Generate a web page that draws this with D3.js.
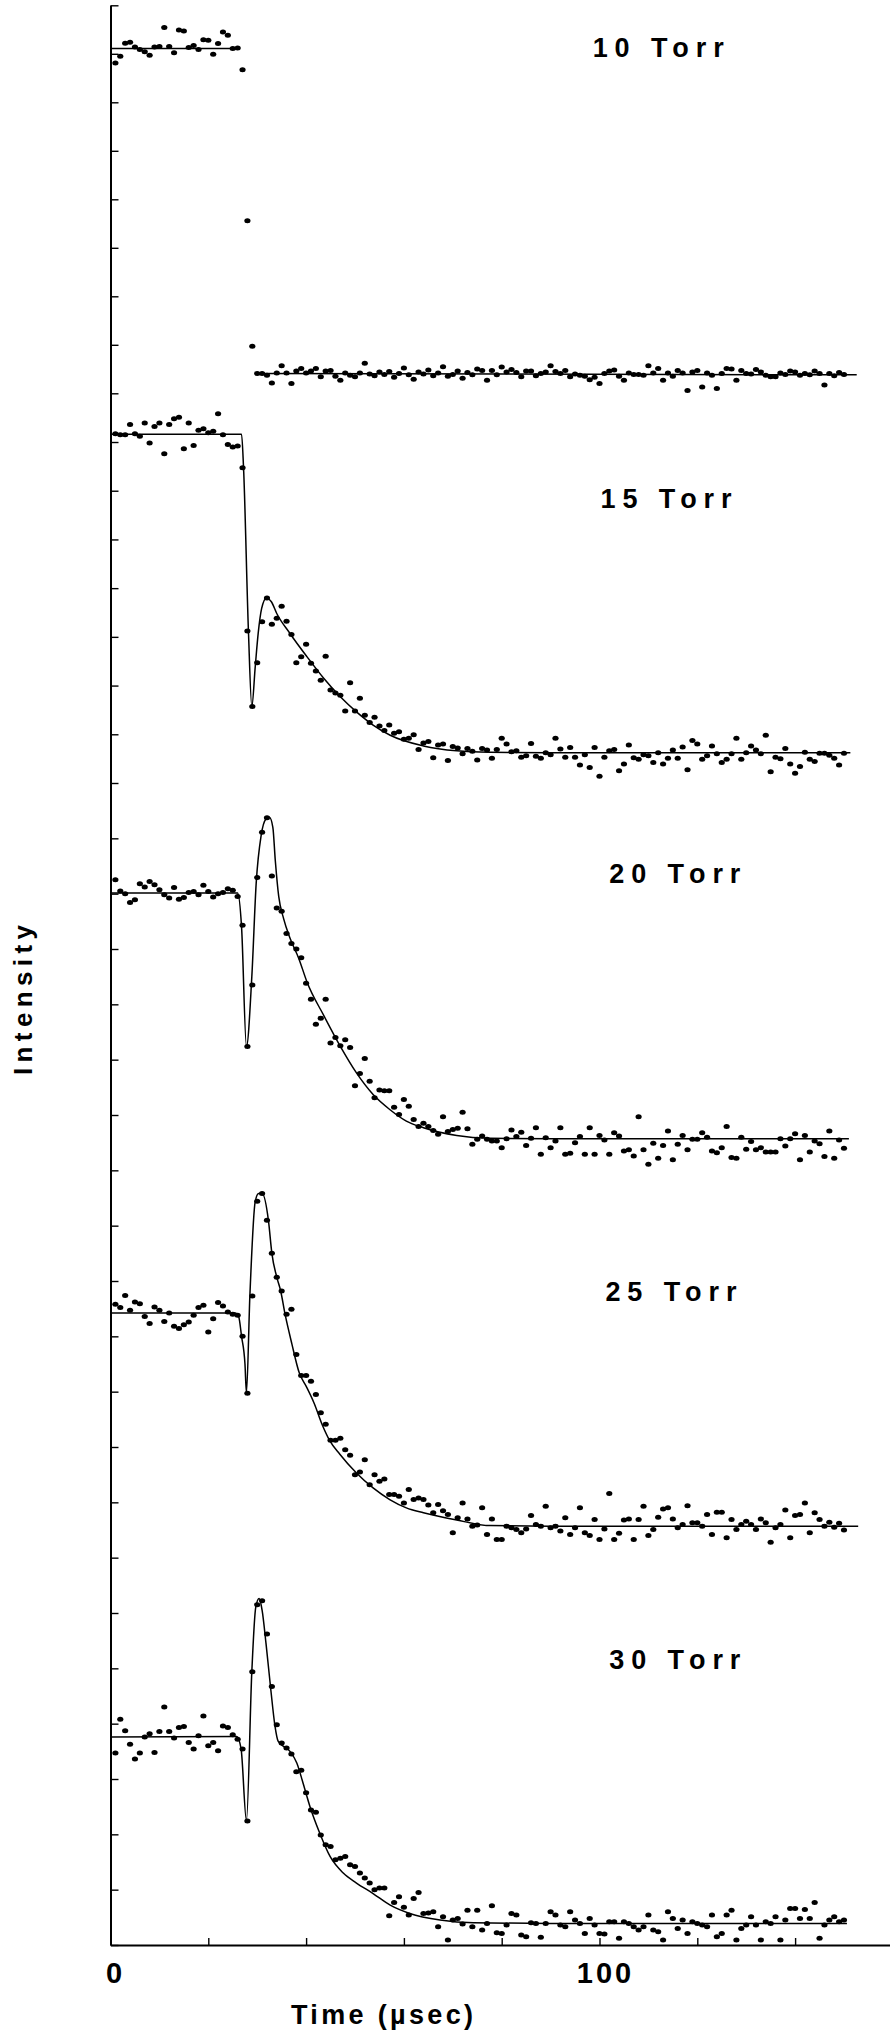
<!DOCTYPE html>
<html><head><meta charset="utf-8">
<script src="https://cdn.jsdelivr.net/npm/d3@7"></script>
<style>html,body{margin:0;padding:0;background:#fff;} svg{display:block;}</style>
</head><body>
<script>
// ---------------- DATA ----------------
const timeUs = [1,2,3,4,5,6,7,8,9,10,11,12,13,14,15,16,17,18,19,20,21,22,23,24,25,26,27,28,29,30,
31,32,33,34,35,36,37,38,39,40,41,42,43,44,45,46,47,48,49,50,51,52,53,54,55,56,57,58,59,60,
61,62,63,64,65,66,67,68,69,70,71,72,73,74,75,76,77,78,79,80,81,82,83,84,85,86,87,88,89,90,
91,92,93,94,95,96,97,98,99,100,101,102,103,104,105,106,107,108,109,110,111,112,113,114,115,116,117,118,119,120,
121,122,123,124,125,126,127,128,129,130,131,132,133,134,135,136,137,138,139,140,141,142,143,144,145,146,147,148,149,150];

const panelNames = ["10 Torr","15 Torr","20 Torr","25 Torr","30 Torr"];
const panelBase = [29, 21, 14, 7, 0];   // stacking offset in intensity units

// intensity (relative to each panel's baseline), one value per timeUs entry
const dots10 = [6.81,6.95,7.22,7.24,7.14,7.09,7.04,6.97,7.14,7.15,
7.54,7.15,7.02,7.49,7.47,7.13,7.17,7.09,7.29,7.28,
6.99,7.21,7.45,7.38,7.11,7.12,6.67,3.56,0.97,
0.41,0.41,0.37,0.21,0.42,0.57,0.42,0.20,0.46,0.51,0.42,0.46,0.51,0.34,0.46,0.47,0.35,0.27,0.42,0.37,0.34,0.42,0.62,0.40,0.36,0.44,0.39,
0.45,0.33,0.41,0.52,0.38,0.29,0.44,0.40,0.48,0.36,0.42,0.55,0.35,0.39,0.46,0.31,0.43,0.38,0.50,
0.47,0.27,0.47,0.38, 0.54,0.44,0.49,0.43, 0.34,0.46,0.46,0.36, 0.41,0.44,0.57,0.45,
0.41,0.47,0.34,0.40, 0.37,0.35,0.28,0.33, 0.20,0.41,0.46,0.48, 0.35,0.27,0.42,0.39,
0.39,0.37,0.57,0.42, 0.51,0.27,0.42,0.35, 0.47,0.42,0.06,0.44, 0.47,0.13,0.42,0.37,
0.10,0.41,0.51,0.50, 0.27,0.47,0.41,0.40, 0.49,0.44,0.37,0.34, 0.34,0.42,0.39,0.46,
0.44,0.37,0.41,0.38, 0.46,0.41,0.17,0.41, 0.36,0.43,0.39];

const dots15 = [7.17,7.15,7.15,7.36,7.17,7.12,7.39,6.98,7.32,7.39,
6.76,7.36,7.48,7.51,6.86,7.39,6.93,7.24,7.27,7.19,
7.22,7.58,7.15,6.95,6.90,6.92,6.47,3.12,1.57,2.47,
3.31,3.80,3.26,3.38,3.63,3.32,3.05,2.47,2.59,2.85,
2.46,2.30,2.11,2.60,1.91,1.85,1.80,1.48,2.06,1.48,
1.74,1.39,1.24,1.35,1.17,1.08,1.19,1.02,1.05,0.90,
0.92,0.99,0.69,0.82,0.85,0.52,0.78,0.80,0.46,0.75,
0.72,0.60,0.71,0.65,0.47,0.71,0.68,
0.51,0.69,0.92,0.80,0.64, 0.66,0.53,0.56,0.81,0.55, 0.51,0.62,0.58,0.92,0.70,
0.53,0.73,0.53,0.37,0.58, 0.32,0.73,0.14,0.53,0.66, 0.69,0.25,0.39,0.78,0.52,
0.49,0.58,0.56,0.42,0.62, 0.39,0.51,0.68,0.51,0.74, 0.27,0.87,0.80,0.49,0.56,
0.76,0.60,0.42,0.49,0.60, 0.92,0.49,0.62,0.76,0.68, 0.60,0.98,0.23,0.53,0.50,
0.71,0.39,0.20,0.34,0.63, 0.49,0.44,0.61,0.61,0.57, 0.51,0.37,0.61];

const dots20 = [5.25,5.05,5.00,4.84,4.89,5.18,5.12,5.22,5.16,5.07,
4.98,4.92,5.11,4.90,4.93,5.02,5.04,4.98,5.15,5.04,
4.94,5.00,5.02,5.09,5.06,4.95,4.43,2.24,3.35,5.29,
6.11,6.37,5.32,4.74,4.68,4.28,4.10,4.00,3.84,3.38,
3.09,2.64,2.75,3.09,2.30,2.40,2.25,2.36,2.22,1.53,
1.75,2.02,1.61,1.31,1.45,1.44,1.44,1.14,1.01,1.28,
1.16,0.92,0.79,0.85,0.79,0.72,0.65,0.97,0.70,0.74,
0.76,1.05,0.75,0.47,0.56,0.62,0.56,
0.53,0.53,0.41,0.57,0.73,0.61,0.69,0.45,0.58,
0.77,0.29,0.59,0.41,0.53,0.77,0.29,0.31,0.50,
0.61,0.29,0.77,0.29,0.63,0.55,0.29,0.68,0.62,
0.35,0.37,0.26,0.97,0.37,0.11,0.49,0.22,0.45,
0.71,0.19,0.47,0.63,0.37,0.56,0.56,0.68,0.60,
0.35,0.32,0.41,0.79,0.23,0.22,0.60,0.38,0.52,
0.37,0.41,0.33,0.33,0.33,0.57,0.44,0.57,0.66,
0.19,0.63,0.33,0.53,0.48, 0.25,0.71,0.22,0.55,0.40];

const dots25 = [4.58,4.52,4.74,4.47,4.62,4.59,4.36,4.23,4.53,4.47,
4.27,4.42,4.18,4.14,4.21,4.26,4.38,4.52,4.56,4.08,
4.32,4.61,4.55,4.44,4.40,4.38,4.00,2.97,4.73,6.44,
6.58,6.10,5.50,5.07,4.82,4.40,4.49,3.67,3.29,3.29,
3.19,2.95,2.62,2.41,2.12,2.12,2.16,1.95,1.85,1.50,
1.55,1.77,1.32,1.50,1.38,1.42,1.14,1.14,1.11,0.99,
1.23,1.05,1.08,1.05,0.95,0.81,0.96,0.85,0.78,0.45,
0.72,0.99,0.70,0.57,0.59,0.90,
0.42,0.70,0.33,0.33,0.57,0.54,0.51,0.45,0.52,0.76,
0.60,0.57,0.93,0.54,0.57,0.48,0.72,0.42,0.54,0.90,
0.45,0.40,0.69,0.33,0.52,1.16,0.33,0.44,0.68,0.70,
0.33,0.69,0.93,0.40,0.51,0.73,0.88,0.90,0.70,0.54,
0.60,0.94,0.63,0.63,0.57,0.78,0.42,0.82,0.82,0.36,
0.69,0.51,0.60,0.66,0.60,0.51,0.70,0.63,0.28,0.54,
0.60,0.86,0.36,0.76,0.78,0.99,0.45,0.81,0.69,0.57,
0.64,0.55,0.62,0.50];

const dots30 = [3.47,4.08,3.87,3.63,3.36,3.47,3.76,3.82,3.48,3.86,
4.30,3.86,3.74,3.93,3.95,3.66,3.54,3.78,4.14,3.60,
3.66,3.51,3.96,3.93,3.80,3.72,3.54,2.24,4.94,6.15,
6.22,5.62,4.67,3.98,3.65,3.56,3.45,3.13,3.16,2.75,
2.44,2.40,1.99,1.81,1.78,1.54,1.57,1.60,1.45,1.42,
1.30,1.21,1.12,1.00,1.03,1.03,0.53,0.77,0.87,0.68,
0.54,0.84,0.95,0.57,0.58,0.60,0.33,0.51,0.09,0.45,
0.48,0.38,0.63,0.33,0.63,
0.27,0.39,0.71,0.22,0.21,0.36,0.57,0.54,0.18,0.15,
0.40,0.39,0.14,0.39,0.60,0.54,0.36,0.33,0.60,0.45,
0.39,0.21,0.48,0.36,0.21,0.20,0.42,0.42,0.12,0.42,
0.39,0.33,0.27,0.33,0.54,0.27,0.24,0.09,0.60,0.48,
0.30,0.45,0.21,0.42,0.39,0.36,0.33,0.54,0.15,0.21,
0.54,0.63,0.09,0.30,0.36,0.51,0.36,0.09,0.42,0.39,
0.51,0.09,0.45,0.66,0.66,0.48,0.64,0.48,0.77,0.12,
0.36,0.45,0.51,0.42,0.45];

// fitted curves: knot times (µs) and values (null = gap)
const fitT10 = [0, 26.5, null, 29.8, 152.6];
const fitV10 = [7.11, 7.11, null, 0.41, 0.38];
const fitT15 = [0,26.8,27.2,28.2,28.9,29.6,30.2,30.9,31.9,32.9,34,36.7,40.2,43.6,47,50.3,53.7,57.2,64,70.8,77.6,90,151.3];
const fitV15 = [7.16,7.16,6.49,3.14,1.57,2.39,3.07,3.58,3.80,3.72,3.48,3.07,2.59,2.15,1.77,1.46,1.19,0.98,0.76,0.66,0.63,0.62,0.62];
const fitT20 = [0,26.0,26.8,27.8,28.9,29.8,30.8,31.8,32.5,33.2,33.7,34.4,35.4,36.7,38.5,40.2,43.6,47,50.3,53.7,57.1,60.5,64,70.8,77.6,90,151];
const fitV20 = [5.01,5.01,4.40,2.24,3.50,5.20,6.05,6.35,6.38,6.20,5.60,4.95,4.55,4.20,3.83,3.40,2.80,2.24,1.76,1.37,1.10,0.89,0.77,0.63,0.58,0.57,0.57];
const fitT25 = [0,25.5,26.2,26.8,27.5,27.8,28.5,29.6,30.3,31.0,32.3,33.0,34.0,34.8,35.7,37.1,38.6,40.0,41.6,43.4,44.8,46.9,50.3,53.7,57.1,60.5,64,70.8,77.6,90,152.9];
const fitV25 = [4.42,4.42,4.36,4.00,3.50,2.98,4.73,6.44,6.58,6.58,6.09,5.50,5.07,4.82,4.40,3.86,3.34,3.10,2.80,2.38,2.12,1.87,1.53,1.26,1.05,0.90,0.81,0.68,0.58,0.57,0.57];
const fitT30 = [0,25.8,26.7,27.8,28.9,29.7,30.4,31.0,31.8,32.8,33.6,34.3,36.7,38.1,39.4,40.8,42.8,44.9,47.6,50.3,53.7,57.2,61.2,67.4,74.2,90,150.6];
const fitV30 = [3.76,3.77,3.55,2.25,4.94,6.10,6.26,6.05,5.45,4.60,3.98,3.68,3.50,3.29,2.92,2.50,2.02,1.60,1.30,1.12,0.93,0.72,0.57,0.45,0.40,0.39,0.39];

const xTickValues = [0,20,40,60,80,100,120,140];
const xTickLabels = [0,100];
const yTickValues = d3.range(0, 38);
const xTitle = "Time (\u00b5sec)";
const yTitle = "Intensity";

// ---------------- LAYOUT ----------------
const W = 890, H = 2034;
const svg = d3.select("body").append("svg").attr("width", W).attr("height", H)
  .style("font-family", "'Liberation Sans', Arial, Helvetica, sans-serif");

const x = d3.scaleLinear().domain([0, 160]).range([110.5, 110.5 + 160 * 4.89]);
const y = d3.scaleLinear().domain([0, 21, 29, 37]).range([1945, 783, 393.3, 5.3]);

const panels = [
  {name: panelNames[0], base: panelBase[0], dots: dots10, fT: fitT10, fV: fitV10},
  {name: panelNames[1], base: panelBase[1], dots: dots15, fT: fitT15, fV: fitV15},
  {name: panelNames[2], base: panelBase[2], dots: dots20, fT: fitT20, fV: fitV20},
  {name: panelNames[3], base: panelBase[3], dots: dots25, fT: fitT25, fV: fitV25},
  {name: panelNames[4], base: panelBase[4], dots: dots30, fT: fitT30, fV: fitV30}
];
const labelPos = [{t: 112, v: 6.93}, {t: 113.6, v: 5.65}, {t: 115.4, v: 5.19}, {t: 114.6, v: 4.63}, {t: 115.4, v: 4.99}];

// axes
const yAxis = d3.axisRight(y).tickValues(yTickValues).tickSize(8).tickSizeOuter(0).tickFormat("");
const gy = svg.append("g").attr("transform", `translate(${x(0)},0)`).call(yAxis);
gy.select(".domain").attr("stroke-width", 2);
gy.selectAll(".tick line").attr("stroke-width", 1.4);

const xAxis = d3.axisTop(x).tickValues(xTickValues).tickSize(7).tickSizeOuter(0).tickFormat("");
const gx = svg.append("g").attr("transform", `translate(0,${y(0)})`).call(xAxis);
gx.select(".domain").attr("stroke-width", 1.8);
gx.selectAll(".tick line").attr("stroke-width", 1.4);

svg.append("g").selectAll("text").data(xTickLabels).join("text")
  .attr("x", d => x(d) + (d === 0 ? 5 : 6)).attr("y", 1983)
  .attr("text-anchor", "middle").attr("font-size", 29).attr("font-weight", 700)
  .attr("letter-spacing", 3)
  .text(d => d);

svg.append("text").attr("x", 382).attr("y", 2024).attr("text-anchor", "middle")
  .attr("font-size", 27).attr("font-weight", 700)
  .attr("textLength", 182).attr("lengthAdjust", "spacing").text(xTitle);

svg.append("text").attr("transform", "translate(32,1000) rotate(-90)").attr("text-anchor", "middle")
  .attr("font-size", 26).attr("font-weight", 700)
  .attr("textLength", 150).attr("lengthAdjust", "spacing").text(yTitle);

// panels
const line = d3.line().defined(d => d[1] != null).curve(d3.curveMonotoneX);
panels.forEach((p, i) => {
  const g = svg.append("g");
  const knots = p.fT.map((t, k) => [t, p.fV[k]]);
  line.x(d => x(d[0])).y(d => y(d[1] + p.base));
  g.append("path").attr("d", line(knots)).attr("fill", "none").attr("stroke", "#000").attr("stroke-width", 1.5);
  g.selectAll("ellipse").data(p.dots).join("ellipse")
    .attr("cx", (d, k) => x(timeUs[k])).attr("cy", d => y(d + p.base))
    .attr("rx", 3.1).attr("ry", 2.5).attr("fill", "#000");
  g.append("text").attr("x", x(labelPos[i].t)).attr("y", y(labelPos[i].v + p.base))
    .attr("text-anchor", "middle").attr("font-size", 27).attr("font-weight", 700)
    .attr("textLength", 131).attr("lengthAdjust", "spacing").text(p.name);
});
</script>
</body></html>
